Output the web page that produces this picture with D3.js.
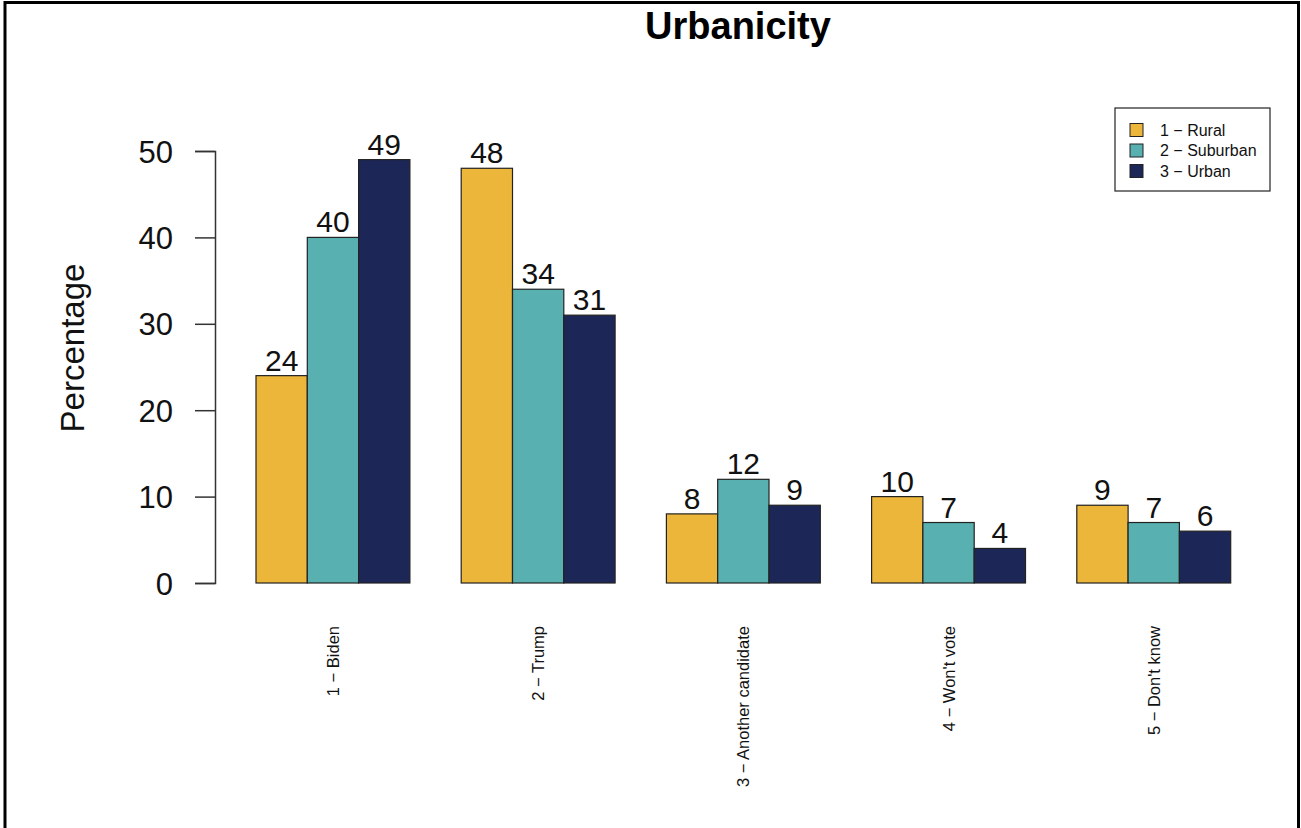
<!DOCTYPE html>
<html>
<head>
<meta charset="utf-8">
<script src="https://cdn.jsdelivr.net/npm/d3@7"></script>
<style>
  body { margin: 0; background: #fff; }
  svg { display: block; font-family: "Liberation Sans", Arial, sans-serif; }
</style>
</head>
<body>
<svg id="chart" width="1301" height="828"></svg>
<script>
const categories = ["1 \u2212 Biden", "2 \u2212 Trump", "3 \u2212 Another candidate", "4 \u2212 Won't vote", "5 \u2212 Don't know"];
const series = ["1 \u2212 Rural", "2 \u2212 Suburban", "3 \u2212 Urban"];
const rural = [24, 48, 8, 10, 9];
const suburban = [40, 34, 12, 7, 7];
const urban = [49, 31, 9, 4, 6];
const yTicks = [0, 10, 20, 30, 40, 50];
const colors = ["#ECB63B", "#58B0B0", "#1C2757"];

const values = [rural, suburban, urban];

const svg = d3.select("#chart");

// outer frame (bottom edge is cut off in the original)
svg.append("path")
  .attr("d", "M5,830 L5,2.5 L1298.5,2.5 L1298.5,830")
  .attr("fill", "none")
  .attr("stroke", "#000")
  .attr("stroke-width", 3);

const y = d3.scaleLinear().domain([0, 50]).range([583, 151]);

const x = d3.scaleBand().domain(categories).range([204.7, 1230.7]);
const bw = x.bandwidth();
const xs = d3.scaleBand().domain(series).range([bw / 4, bw]);

// y axis
const yAxis = svg.append("g")
  .attr("transform", "translate(215,0)")
  .call(d3.axisLeft(y).tickValues(yTicks).tickSize(20).tickPadding(22));
yAxis.select(".domain").attr("stroke", "#333").attr("stroke-width", 1.5);
yAxis.selectAll(".tick line").attr("stroke", "#333").attr("stroke-width", 1.5);
yAxis.selectAll(".tick text")
  .attr("font-size", 31)
  .attr("fill", "#111")
  .attr("dy", "0.36em")
  .style("font-family", "'Liberation Sans', Arial, sans-serif");

// bars
const groups = svg.append("g").selectAll("g")
  .data(categories)
  .join("g")
  .attr("transform", d => `translate(${x(d)},0)`);

groups.selectAll("rect")
  .data((d, i) => series.map((s, j) => ({ s, j, v: values[j][i] })))
  .join("rect")
  .attr("x", d => xs(d.s))
  .attr("width", xs.bandwidth())
  .attr("y", d => y(d.v))
  .attr("height", d => y(0) - y(d.v))
  .attr("fill", d => colors[d.j])
  .attr("stroke", "#222")
  .attr("stroke-width", 1.2);

groups.selectAll("text.val")
  .data((d, i) => series.map((s, j) => ({ s, j, v: values[j][i] })))
  .join("text")
  .attr("class", "val")
  .attr("x", d => xs(d.s) + xs.bandwidth() / 2)
  .attr("y", d => y(d.v) - 5)
  .attr("text-anchor", "middle")
  .attr("font-size", 30)
  .attr("fill", "#111")
  .text(d => d.v);

// category labels, rotated
svg.append("g").selectAll("text")
  .data(categories)
  .join("text")
  .attr("transform", d => `translate(${x(d) + bw / 4 + xs.bandwidth() * 1.5},626) rotate(-90)`)
  .attr("text-anchor", "end")
  .attr("dy", "0.36em")
  .attr("font-size", 16.5)
  .attr("fill", "#111")
  .text(d => d);

// y label
svg.append("text")
  .attr("transform", "translate(84,348) rotate(-90)")
  .attr("text-anchor", "middle")
  .attr("font-size", 33)
  .attr("fill", "#111")
  .text("Percentage");

// title
svg.append("text")
  .attr("x", 738)
  .attr("y", 39)
  .attr("text-anchor", "middle")
  .attr("font-size", 38)
  .attr("font-weight", "bold")
  .attr("fill", "#000")
  .text("Urbanicity");

// legend
const legend = svg.append("g").attr("transform", "translate(1115,108)");
legend.append("rect")
  .attr("width", 155).attr("height", 83)
  .attr("fill", "#fff").attr("stroke", "#222").attr("stroke-width", 1.2);
const rows = legend.selectAll("g")
  .data(series)
  .join("g")
  .attr("transform", (d, i) => `translate(0,${22 + i * 20.5})`);
rows.append("rect")
  .attr("x", 15).attr("y", -6.5).attr("width", 13).attr("height", 13)
  .attr("fill", (d, i) => colors[i]).attr("stroke", "#222").attr("stroke-width", 1);
rows.append("text")
  .attr("x", 45)
  .attr("dy", "0.36em")
  .attr("font-size", 16)
  .attr("fill", "#111")
  .text(d => d);
</script>
</body>
</html>
